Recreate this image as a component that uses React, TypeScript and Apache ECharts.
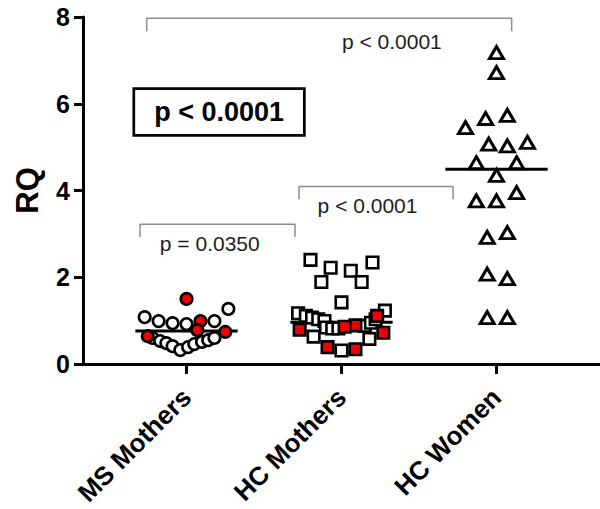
import React, { useEffect, useRef } from "react";
import * as echarts from "echarts";

const categories = ["MS Mothers", "HC Mothers", "HC Women"];
const yTicks = [0, 2, 4, 6, 8];

// MS Mothers (category 0): horizontal jitter (category units) and RQ values
const msOpenJitter = [-0.27, -0.18, -0.09, 0.0, 0.18, 0.27, -0.22, -0.17, -0.13, -0.09, -0.04, 0.01, 0.05, 0.1, 0.14, 0.18];
const msOpenRQ = [1.08, 0.99, 0.94, 0.92, 0.99, 1.27, 0.6, 0.53, 0.48, 0.41, 0.32, 0.39, 0.46, 0.51, 0.55, 0.6];
const msRedJitter = [0.0, 0.09, 0.07, -0.25, 0.25];
const msRedRQ = [1.5, 0.99, 0.78, 0.64, 0.74];

// HC Mothers (category 1)
const hcmOpenJitter = [-0.2, -0.07, -0.13, 0.06, 0.2, 0.13, 0.0, 0.28, -0.28, -0.23, -0.19, -0.15, -0.11, -0.1, -0.06, -0.02, 0.15, 0.19, 0.22, -0.18, 0.18, 0.0];
const hcmOpenRQ = [2.4, 2.22, 1.89, 2.15, 2.34, 1.89, 1.42, 1.23, 1.17, 1.11, 1.07, 1.03, 0.99, 0.84, 0.82, 0.82, 0.88, 0.95, 1.03, 0.63, 0.58, 0.31];
const hcmRedJitter = [0.23, -0.27, 0.27, 0.09, 0.02, -0.09, 0.09];
const hcmRedRQ = [1.11, 0.79, 0.72, 0.89, 0.86, 0.39, 0.34];

// HC Women (category 2)
const hcwJitter = [0.0, 0.0, -0.2, -0.07, 0.07, -0.05, 0.07, 0.2, -0.13, 0.13, 0.0, -0.13, 0.0, 0.13, -0.06, 0.07, -0.06, 0.07, -0.06, 0.07];
const hcwRQ = [7.18, 6.72, 5.45, 5.66, 5.73, 5.07, 5.03, 5.11, 4.64, 4.64, 4.35, 3.76, 3.76, 3.95, 2.92, 3.03, 2.07, 1.97, 1.07, 1.07];

const medians = [0.76, 0.96, 4.49];
const medianHalfWidth = 0.33;

// comparison brackets: [x start, x end, top y, leg bottom y]
const brackets = [
  [-0.257, 2.098, 7.97, 7.67],
  [0.726, 1.72, 4.09, 3.8],
  [-0.3, 0.7, 3.22, 2.93],
];
const bracketTexts = ["p < 0.0001", "p < 0.0001", "p = 0.0350"];
const bracketTextPos = [
  [1.325, 7.43],
  [1.168, 3.65],
  [0.15, 2.78],
];
const overallText = "p < 0.0001";
const overallPos = [0.21, 5.81];

const FONT = "'Liberation Sans', Arial, sans-serif";

function pts(center: number, jit: number[], vals: number[]) {
  return vals.map((v, i) => [center + jit[i], v]);
}

export default function App() {
  const ref = useRef<HTMLDivElement>(null);
  useEffect(() => {
    document.body.style.margin = "0";
    const chart = echarts.init(ref.current!, null, { renderer: "svg" });
    const markStyle = (fill: string, bw = 2.6) => ({ color: fill, borderColor: "#000", borderWidth: bw, opacity: 1 });
    const series: any[] = [];
    medians.forEach((m, i) => {
      series.push({
        type: "line",
        data: [
          [i - medianHalfWidth, m],
          [i + medianHalfWidth, m],
        ],
        symbol: "none",
        lineStyle: { color: "#000", width: 3, opacity: 1 },
        silent: true,
        z: 1,
      });
    });
    brackets.forEach((b) => {
      series.push({
        type: "line",
        data: [
          [b[0], b[3]],
          [b[0], b[2]],
          [b[1], b[2]],
          [b[1], b[3]],
        ],
        symbol: "none",
        lineStyle: { color: "#8c8c8c", width: 1.5, opacity: 1 },
        silent: true,
        z: 1,
      });
    });
    const scatter = (data: number[][], symbol: string, size: any, fill: string, z: number, bw = 2.6) => ({
      type: "scatter",
      data,
      symbol,
      symbolSize: size,
      itemStyle: markStyle(fill, bw),
      emphasis: { disabled: true },
      z,
    });
    series.push(scatter(pts(0, msOpenJitter, msOpenRQ), "circle", 11.5, "#fff", 3));
    series.push(scatter(pts(0, msRedJitter, msRedRQ), "circle", 11.5, "#f00000", 4));
    series.push(scatter(pts(1, hcmOpenJitter, hcmOpenRQ), "rect", 11.5, "#fff", 3));
    series.push(scatter(pts(1, hcmRedJitter, hcmRedRQ), "rect", 11.5, "#f00000", 4));
    series.push(scatter(pts(2, hcwJitter, hcwRQ), "triangle", [14, 12], "#fff", 3, 3));
    const textData: any[] = bracketTexts.map((t, i) => ({
      value: bracketTextPos[i],
      label: {
        show: true,
        formatter: t,
        position: "inside",
        fontFamily: FONT,
        fontSize: 21,
        color: "#1e1e1e",
      },
    }));
    textData.push({
      value: overallPos,
      label: {
        show: true,
        formatter: overallText,
        position: "inside",
        fontFamily: FONT,
        fontSize: 27,
        fontWeight: "bold",
        color: "#000",
        borderColor: "#000",
        borderWidth: 2.7,
        padding: [9, 19, 8, 19],
        backgroundColor: "#fff",
      },
    });
    series.push({
      type: "scatter",
      data: textData,
      symbolSize: 0,
      itemStyle: { opacity: 1 },
      silent: true,
      z: 5,
    });
    chart.setOption({
      animation: false,
      grid: { left: 83, right: 0, top: 17, bottom: 145, containLabel: false },
      xAxis: {
        type: "value",
        min: -0.668,
        max: 2.668,
        splitLine: { show: false },
        axisLine: { show: true, onZero: false, lineStyle: { color: "#000", width: 3 } },
        axisTick: { show: true, customValues: [0, 1, 2], length: 10, lineStyle: { color: "#000", width: 3 } },
        axisLabel: {
          show: true,
          customValues: [0, 1, 2],
          formatter: (v: number) => categories[Math.round(v)] ?? "",
          rotate: 45,
          margin: 29,
          fontFamily: FONT,
          fontSize: 26,
          fontWeight: "bold",
          color: "#000",
        },
      },
      yAxis: {
        type: "value",
        min: 0,
        max: 8,
        interval: 2,
        name: "RQ",
        nameLocation: "middle",
        nameRotate: 90,
        nameGap: 40,
        nameTextStyle: { fontFamily: FONT, fontSize: 31, fontWeight: "bold", color: "#000" },
        splitLine: { show: false },
        axisLine: { show: true, onZero: false, lineStyle: { color: "#000", width: 3 } },
        axisTick: { show: true, length: 9, lineStyle: { color: "#000", width: 3 } },
        axisLabel: {
          margin: 13,
          fontFamily: FONT,
          fontSize: 25,
          fontWeight: "bold",
          color: "#000",
          formatter: (v: number) => (yTicks.includes(v) ? String(v) : ""),
        },
      },
      series,
    });
    return () => chart.dispose();
  }, []);
  return <div ref={ref} style={{ width: 600, height: 509 }} />;
}
